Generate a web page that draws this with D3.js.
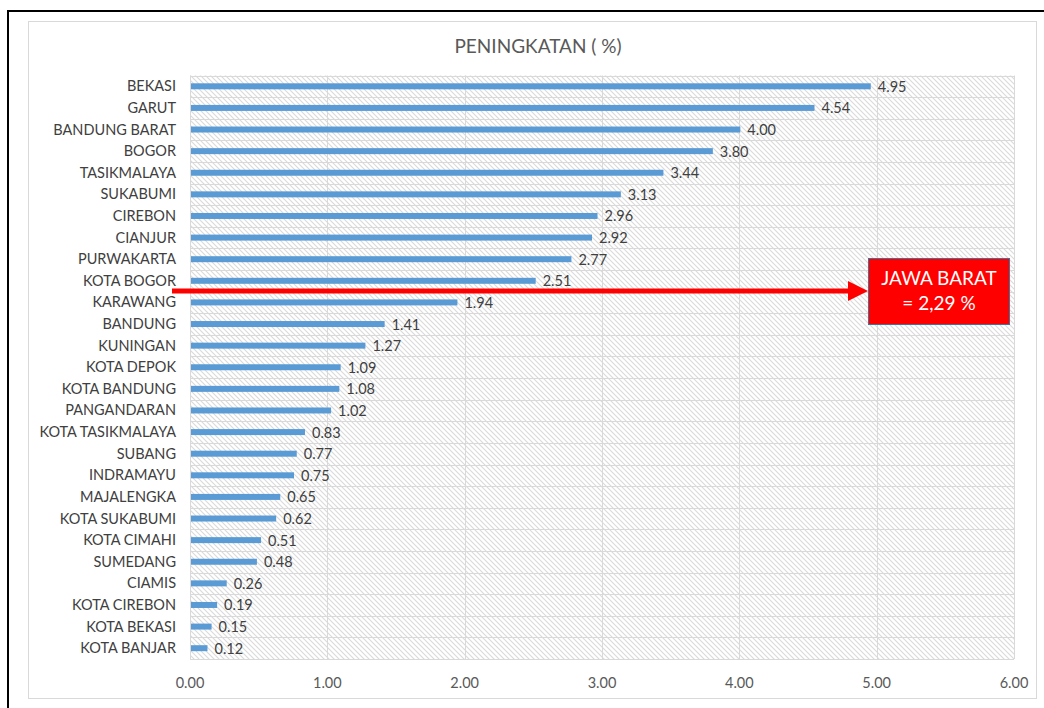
<!DOCTYPE html>
<html><head><meta charset="utf-8">
<script src="https://cdn.jsdelivr.net/npm/d3@7"></script>
<style>body{margin:0;background:#fff}svg{display:block}</style>
</head><body>
<script>
const categories = ["BEKASI","GARUT","BANDUNG BARAT","BOGOR","TASIKMALAYA","SUKABUMI","CIREBON","CIANJUR","PURWAKARTA","KOTA BOGOR","KARAWANG","BANDUNG","KUNINGAN","KOTA DEPOK","KOTA BANDUNG","PANGANDARAN","KOTA TASIKMALAYA","SUBANG","INDRAMAYU","MAJALENGKA","KOTA SUKABUMI","KOTA CIMAHI","SUMEDANG","CIAMIS","KOTA CIREBON","KOTA BEKASI","KOTA BANJAR"];
const values = [4.95,4.54,4.00,3.80,3.44,3.13,2.96,2.92,2.77,2.51,1.94,1.41,1.27,1.09,1.08,1.02,0.83,0.77,0.75,0.65,0.62,0.51,0.48,0.26,0.19,0.15,0.12];
const xTicks = [0,1,2,3,4,5,6];
const title = "PENINGKATAN ( %)";
const calloutLines = ["JAWA BARAT","= 2,29 %"];

const W = 1044, H = 708;
const font = "Lato, 'Open Sans', sans-serif";
const svg = d3.select("body").append("svg").attr("width", W).attr("height", H);

const defs = svg.append("defs");
const pat = defs.append("pattern").attr("id","hatch").attr("patternUnits","userSpaceOnUse")
  .attr("width",5).attr("height",5);
pat.append("rect").attr("width",5).attr("height",5).attr("fill","#fff");
pat.append("path").attr("d","M-1,-1 L6,6 M-1,4 L1,6 M4,-1 L6,1").attr("stroke","#dadada").attr("stroke-width",1.1);

// outer black frame (top & left visible)
svg.append("rect").attr("x",8).attr("y",11).attr("width",1100).attr("height",800)
  .attr("fill","none").attr("stroke","#000").attr("stroke-width",2);
// chart area border
svg.append("rect").attr("x",28.5).attr("y",21.5).attr("width",1008).attr("height",677)
  .attr("fill","#fff").attr("stroke","#d9d9d9").attr("stroke-width",1);

const x = d3.scaleLinear().domain([0,6]).range([190,1014]);
const y = d3.scaleBand().domain(categories).range([75.5,659]).paddingInner(0).paddingOuter(0);

// plot background hatch
svg.append("rect").attr("x",x(0)).attr("y",y.range()[0]).attr("width",x(6)-x(0))
  .attr("height",y.range()[1]-y.range()[0]).attr("fill","url(#hatch)");

// vertical gridlines
svg.append("g").selectAll("line").data(xTicks).join("line")
  .attr("x1",d=>Math.round(x(d))+0.5).attr("x2",d=>Math.round(x(d))+0.5)
  .attr("y1",y.range()[0]).attr("y2",y.range()[1])
  .attr("stroke","#d9d9d9").attr("stroke-width",1);
// horizontal gridlines at band boundaries
const bounds = categories.map(c=>y(c)).concat([y.range()[1]]);
svg.append("g").selectAll("line").data(bounds).join("line")
  .attr("x1",x(0)).attr("x2",x(6))
  .attr("y1",d=>Math.round(d)+0.5).attr("y2",d=>Math.round(d)+0.5)
  .attr("stroke","#d9d9d9").attr("stroke-width",1);

// bars
const bh = 6;
svg.append("g").selectAll("rect").data(values).join("rect")
  .attr("x",x(0)+1).attr("y",(d,i)=>y(categories[i])+y.bandwidth()/2-bh/2)
  .attr("width",d=>x(d)-x(0)).attr("height",bh).attr("fill","#5B9BD5");

// value labels
svg.append("g").selectAll("text").data(values).join("text")
  .attr("x",d=>x(d)+8).attr("y",(d,i)=>y(categories[i])+y.bandwidth()/2+5.5)
  .attr("font-family",font).attr("font-size",14.5).attr("fill","#404040")
  .text(d=>d.toFixed(2));

// category axis labels
svg.append("g").selectAll("text").data(categories).join("text")
  .attr("x",176).attr("y",d=>y(d)+y.bandwidth()/2+5)
  .attr("text-anchor","end").attr("font-family",font).attr("font-size",14.5).attr("fill","#404040")
  .text(d=>d);

// x axis tick labels
svg.append("g").selectAll("text").data(xTicks).join("text")
  .attr("x",d=>x(d)).attr("y",688).attr("text-anchor","middle")
  .attr("font-family",font).attr("font-size",14.5).attr("fill","#595959")
  .text(d=>d.toFixed(2));

// title
svg.append("text").attr("x",538).attr("y",53).attr("text-anchor","middle")
  .attr("font-family",font).attr("font-size",19).attr("fill","#595959").text(title);

// red arrow
svg.append("line").attr("x1",172).attr("x2",850).attr("y1",291).attr("y2",291)
  .attr("stroke","#ff0000").attr("stroke-width",5);
svg.append("path").attr("d","M848,281 L868,291 L848,301 Z").attr("fill","#ff0000");

// callout box
svg.append("rect").attr("x",868.5).attr("y",258.5).attr("width",141).attr("height",66)
  .attr("fill","#ff0000").attr("stroke","#41719C").attr("stroke-width",1);
svg.append("g").selectAll("text").data(calloutLines).join("text")
  .attr("x",939).attr("y",(d,i)=>285+i*25).attr("text-anchor","middle")
  .attr("font-family",font).attr("font-size",19).attr("fill","#fff").text(d=>d);
</script>
</body></html>
